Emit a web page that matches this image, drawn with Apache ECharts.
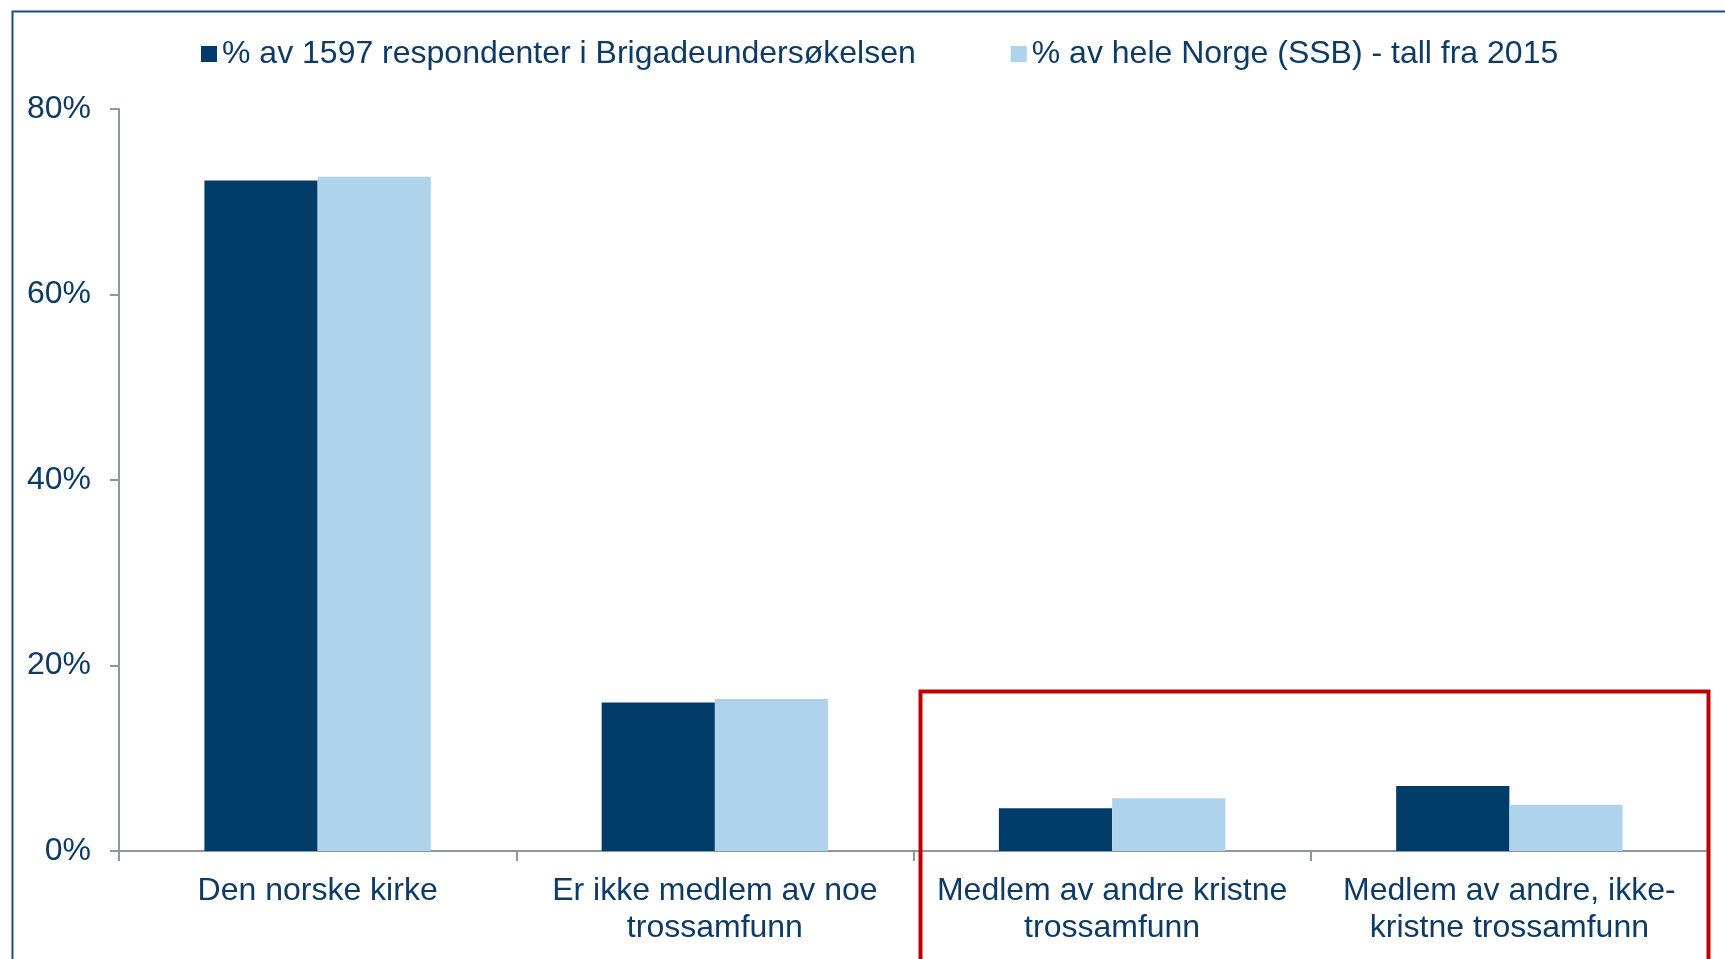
<!DOCTYPE html>
<html>
<head>
<meta charset="utf-8">
<script src="https://cdn.jsdelivr.net/npm/echarts@6/dist/echarts.min.js"></script>
<style>
html,body{margin:0;padding:0;background:#fff;}
#c{width:1725px;height:959px;}
</style>
</head>
<body>
<div id="c"></div>
<script>
const categories = [
  "Den norske kirke",
  "Er ikke medlem av noe\ntrossamfunn",
  "Medlem av andre kristne\ntrossamfunn",
  "Medlem av andre, ikke-\nkristne trossamfunn"
];
const seriesNames = [
  "% av 1597 respondenter i Brigadeundersøkelsen",
  "% av hele Norge (SSB) - tall fra 2015"
];
const brigade = [72.3, 16.0, 4.6, 7.0];
const norge = [72.7, 16.4, 5.7, 5.0];
const yTicks = [0, 20, 40, 60, 80];

const navy = '#0d3b66';
const font = 'Liberation Sans, Arial, sans-serif';
const chart = echarts.init(document.getElementById('c'), null, {renderer: 'canvas'});
chart.setOption({
  animation: false,
  backgroundColor: '#ffffff',
  textStyle: {fontFamily: font},
  legend: {
    left: 196, top: 33,
    itemWidth: 16, itemHeight: 16, itemGap: 95,
    icon: 'rect',
    textStyle: {color: navy, fontSize: 32, fontFamily: font},
    data: seriesNames
  },
  grid: {left: 119, right: 17, top: 109, bottom: 108, containLabel: false},
  xAxis: {
    type: 'category',
    data: categories,
    axisLine: {lineStyle: {color: '#8c96a4', width: 2}},
    axisTick: {show: true, length: 10, lineStyle: {color: '#8c96a4', width: 2}},
    axisLabel: {interval: 0, color: navy, fontSize: 32, lineHeight: 37, margin: 22, fontFamily: font}
  },
  yAxis: {
    type: 'value',
    min: yTicks[0], max: yTicks[yTicks.length - 1], interval: 20,
    splitLine: {show: false},
    axisLine: {show: true, lineStyle: {color: '#8c96a4', width: 2}},
    axisTick: {show: true, length: 9, lineStyle: {color: '#8c96a4', width: 2}},
    axisLabel: {color: navy, fontSize: 32, margin: 28, padding: [4, 0, 0, 0], formatter: v => v + '%', fontFamily: font}
  },
  series: [
    {name: seriesNames[0], type: 'bar', data: brigade, barGap: '0%', barCategoryGap: '43%',
     itemStyle: {color: '#013c68'}},
    {name: seriesNames[1], type: 'bar', data: norge, barGap: '0%', barCategoryGap: '43%',
     itemStyle: {color: '#afd3eb'}}
  ],
  graphic: [
    {type: 'rect', left: 10, top: 9, z: 100, silent: true,
     shape: {width: 1730, height: 960},
     style: {fill: null, stroke: '#1c4d7a', lineWidth: 2}},
    {type: 'rect', left: 918, top: 689, z: 100, silent: true,
     shape: {width: 788, height: 300},
     style: {fill: null, stroke: '#c00000', lineWidth: 4}}
  ]
});
</script>
</body>
</html>
